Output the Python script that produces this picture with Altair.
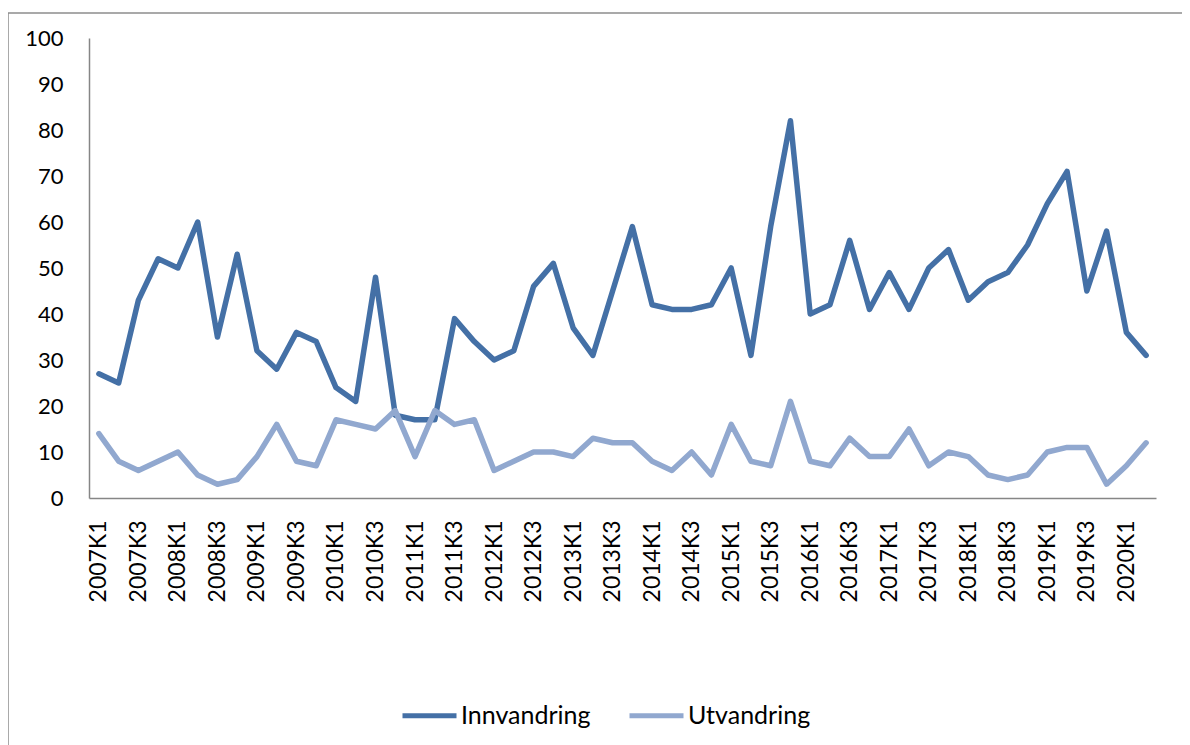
import altair as alt
import pandas as pd

quarters = [f"{y}K{q}" for y in range(2007, 2021) for q in (1, 2, 3, 4)][:54]

innvandring = [27, 25, 43, 52, 50, 60, 35, 53, 32, 28, 36, 34, 24, 21, 48,
               18, 17, 17, 39, 34, 30, 32, 46, 51, 37, 31, 45, 59, 42,
               41, 41, 42, 50, 31, 59, 82, 40, 42, 56, 41, 49, 41, 50,
               54, 43, 47, 49, 55, 64, 71, 45, 58, 36, 31]
utvandring = [14, 8, 6, 8, 10, 5, 3, 4, 9, 16, 8, 7, 17, 16, 15,
              19, 9, 19, 16, 17, 6, 8, 10, 10, 9, 13, 12, 12, 8,
              6, 10, 5, 16, 8, 7, 21, 8, 7, 13, 9, 9, 15, 7,
              10, 9, 5, 4, 5, 10, 11, 11, 3, 7, 12]

series = ["Innvandring", "Utvandring"]
colors = ["#4470A6", "#91A8CF"]
x_labels = quarters[::2]
y_ticks = [0, 10, 20, 30, 40, 50, 60, 70, 80, 90, 100]

rows = []
for q, a, b in zip(quarters, innvandring, utvandring):
    rows.append({"kvartal": q, "serie": series[0], "verdi": a})
    rows.append({"kvartal": q, "serie": series[1], "verdi": b})
df = pd.DataFrame(rows)

FONT = "Lato"
W, H = 1067, 460
AXIS_GREY = "#868686"

lines = alt.Chart(df).mark_line(strokeWidth=5.5, strokeJoin="round", strokeCap="round").encode(
    x=alt.X("kvartal:O", sort=quarters,
            scale=alt.Scale(type="point", padding=0.5),
            axis=alt.Axis(title=None, values=x_labels, labelAngle=270, ticks=False,
                          domainColor=AXIS_GREY, domainWidth=1.5, labelPadding=22,
                          labelFontSize=23, labelColor="black", labelFont=FONT)),
    y=alt.Y("verdi:Q", scale=alt.Scale(domain=[0, 100], nice=False),
            axis=alt.Axis(title=None, values=y_ticks, ticks=False, grid=False,
                          domainColor=AXIS_GREY, domainWidth=1.5, labelPadding=26,
                          labelFontSize=22, labelColor="black", labelFont=FONT)),
    color=alt.Color("serie:N", sort=series,
                    scale=alt.Scale(domain=series, range=colors),
                    legend=alt.Legend(title=None, orient="none", legendX=311, legendY=648,
                                      direction="horizontal", symbolType="stroke",
                                      symbolSize=2916, symbolStrokeWidth=5,
                                      labelFontSize=25, labelFont=FONT, labelColor="black",
                                      columnPadding=28, labelOffset=2)),
    order=alt.value(0),
)

one = pd.DataFrame({"a": [0]})
border_top = alt.Chart(one).mark_rule(color="#8c8c8c", strokeWidth=1.5).encode(
    x=alt.value(-81), x2=alt.value(1200), y=alt.value(-25))
border_left = alt.Chart(one).mark_rule(color="#8c8c8c", strokeWidth=1.5).encode(
    x=alt.value(-81), y=alt.value(-25), y2=alt.value(800))

chart = alt.layer(border_top, border_left, lines).properties(
    width=W, height=H,
    padding={"left": 81, "top": 30, "right": 26, "bottom": 262},
    autosize="none",
).configure_view(stroke=None)

chart.save("out.html", embed_options={"renderer": "svg", "actions": False})
